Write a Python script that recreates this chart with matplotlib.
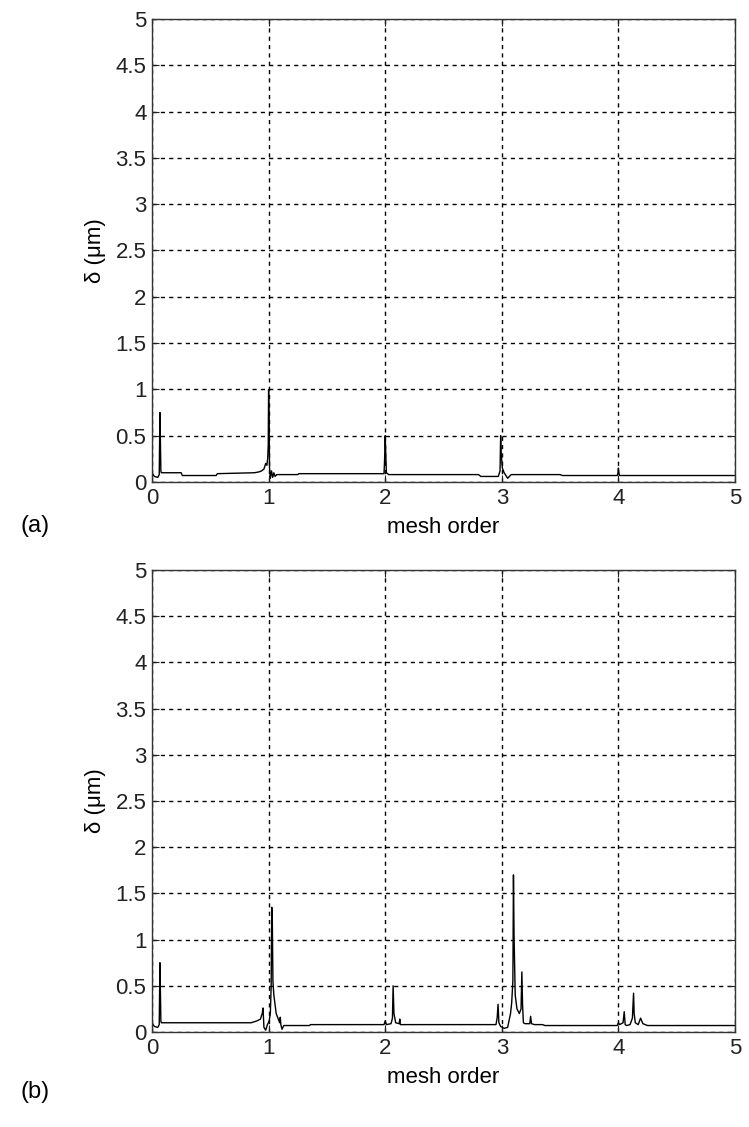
import matplotlib
matplotlib.use("Agg")
import matplotlib.pyplot as plt

plt.rcParams['font.family'] = ['Liberation Sans', 'DejaVu Sans']

# ---- data: panel (a) ----
a_x = [0.00, 0.02, 0.05, 0.062, 0.068, 0.072, 0.076, 0.08, 0.10, 0.25, 0.26, 0.55, 0.56,
       0.88, 0.92, 0.94, 0.96, 0.975, 0.985, 0.992, 0.997, 1.000, 1.004, 1.008, 1.015,
       1.025, 1.035, 1.045, 1.055, 1.07, 1.10, 1.25, 1.26, 1.99, 1.995, 2.000, 2.005,
       2.01, 2.03, 2.80, 2.82, 2.97, 2.985, 2.990, 2.995, 3.005, 3.02, 3.05, 3.08, 3.50,
       3.52, 3.99, 3.997, 4.000, 4.004, 4.01, 5.00]
a_y = [0.10, 0.06, 0.05, 0.08, 0.75, 0.45, 0.12, 0.10, 0.10, 0.10, 0.07, 0.07, 0.09,
       0.10, 0.11, 0.12, 0.14, 0.20, 0.18, 0.25, 0.40, 1.00, 0.70, 0.15, 0.04,
       0.12, 0.05, 0.10, 0.06, 0.08, 0.08, 0.08, 0.09, 0.09, 0.25, 0.50, 0.30,
       0.10, 0.08, 0.08, 0.06, 0.06, 0.12, 0.50, 0.30, 0.15, 0.10, 0.04, 0.08, 0.08,
       0.07, 0.07, 0.10, 0.15, 0.10, 0.07, 0.07]

# ---- data: panel (b) ----
b_x = [0.00, 0.02, 0.05, 0.062, 0.068, 0.072, 0.076, 0.08, 0.10, 0.85, 0.90, 0.93, 0.945,
       0.952, 0.96, 0.975, 0.99, 1.005, 1.015, 1.022, 1.027, 1.032, 1.037, 1.045, 1.055,
       1.065, 1.08, 1.095, 1.10, 1.105, 1.115, 1.13, 1.35, 1.36, 1.99, 2.00, 2.01, 2.05,
       2.062, 2.068, 2.075, 2.09, 2.12, 2.125, 2.13, 2.95, 2.96, 2.968, 2.975, 2.99, 3.02,
       3.05, 3.075, 3.085, 3.095, 3.100, 3.105, 3.115, 3.13, 3.15, 3.165, 3.172, 3.178,
       3.185, 3.20, 3.24, 3.247, 3.255, 3.28, 3.35, 3.37, 3.99, 4.00, 4.01, 4.04, 4.05,
       4.058, 4.07, 4.10, 4.12, 4.13, 4.135, 4.145, 4.17, 4.19, 4.21, 4.25, 5.00]
b_y = [0.10, 0.06, 0.05, 0.08, 0.75, 0.45, 0.12, 0.10, 0.10, 0.10, 0.12, 0.14, 0.20,
       0.26, 0.05, 0.02, 0.08, 0.12, 0.20, 0.50, 1.35, 1.20, 0.55, 0.40, 0.30,
       0.20, 0.15, 0.10, 0.16, 0.08, 0.03, 0.07, 0.07, 0.08, 0.08, 0.12, 0.08, 0.09,
       0.15, 0.50, 0.20, 0.10, 0.09, 0.14, 0.08, 0.08, 0.15, 0.30, 0.10, 0.06, 0.04,
       0.05, 0.20, 0.32, 0.55, 1.70, 1.05, 0.40, 0.25, 0.20, 0.25, 0.65, 0.30,
       0.10, 0.09, 0.09, 0.17, 0.09, 0.08, 0.08, 0.07, 0.07, 0.10, 0.08, 0.10, 0.22,
       0.08, 0.07, 0.08, 0.15, 0.42, 0.20, 0.10, 0.08, 0.15, 0.09, 0.07, 0.07]

x_ticks = [0, 1, 2, 3, 4, 5]
y_ticks = [0, 0.5, 1, 1.5, 2, 2.5, 3, 3.5, 4, 4.5, 5]
y_ticklabels = ['0', '0.5', '1', '1.5', '2', '2.5', '3', '3.5', '4', '4.5', '5']
panel_labels = ['(a)', '(b)']
xlabel_text = 'mesh order'
ylabel_text = 'δ (μm)'

W, H = 749, 1127
fig = plt.figure(figsize=(W / 100, H / 100), dpi=100)

left = 152 / W
width = (735 - 152) / W
panels = [(19, 482), (570, 1032)]
label_y = [-0.096, -0.13]
series = [(a_x, a_y), (b_x, b_y)]

for i, ((top_px, bot_px), (xs, ys)) in enumerate(zip(panels, series)):
    ax = fig.add_axes([left, 1 - bot_px / H, width, (bot_px - top_px) / H])
    ax.plot(xs, ys, color='black', linewidth=1.0)
    ax.set_xlim(0, 5)
    ax.set_ylim(0, 5)
    ax.set_xticks(x_ticks)
    ax.set_yticks(y_ticks)
    ax.set_yticklabels(y_ticklabels)
    ax.grid(True, color='black', linestyle=(0, (3, 3)), linewidth=1.0)
    ax.tick_params(direction='in', length=5, width=0.8, top=True, right=True,
                   labelsize=16, pad=4, colors='#222222')
    for s in ax.spines.values():
        s.set_linewidth(1.0)
        s.set_color('#333333')
    ax.set_xlabel(xlabel_text, fontsize=16, labelpad=6)
    ax.set_ylabel(ylabel_text, fontsize=16, labelpad=7)
    ax.text(-0.225, label_y[i], panel_labels[i], transform=ax.transAxes,
            fontsize=17, ha='left', va='center')

fig.savefig('out.png', dpi=100)
